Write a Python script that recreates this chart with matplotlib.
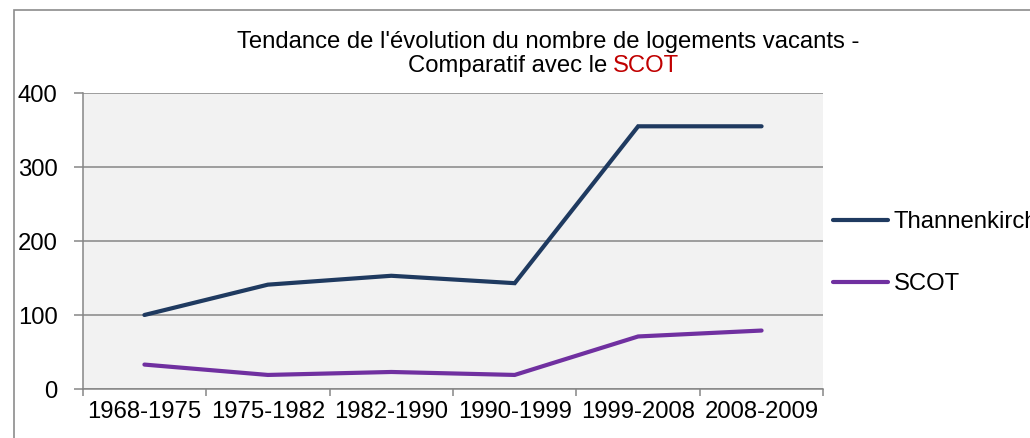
import matplotlib
matplotlib.use("Agg")
import matplotlib.pyplot as plt
from matplotlib.patches import Rectangle

categories = ["1968-1975", "1975-1982", "1982-1990", "1990-1999", "1999-2008", "2008-2009"]
thannenkirch = [100, 141, 153, 143, 355, 355]
scot = [33, 19, 23, 19, 71, 79]
series_names = ["Thannenkirch", "SCOT"]
y_ticks = [0, 100, 200, 300, 400]

W, H = 1030, 438
plt.rcParams['font.family'] = ['Liberation Sans', 'DejaVu Sans']
fig = plt.figure(figsize=(W / 100, H / 100), dpi=100)
fig.patch.set_facecolor('white')

# chart border (extends past right/bottom edges)
fig.patches.append(Rectangle((14 / W, -0.1), 1.2, 1 - 10 / H + 0.1, transform=fig.transFigure,
                             fill=False, edgecolor='#8c8c8c', linewidth=1.2, figure=fig))

left, right, top, bottom = 82.7, 823.3, 93.0, 389.0
ax = fig.add_axes([left / W, 1 - bottom / H, (right - left) / W, (bottom - top) / H])
ax.set_facecolor('#f2f2f2')

x = list(range(len(categories)))
navy = '#1f3a60'
purple = '#7030a0'
ax.plot(x, thannenkirch, color=navy, lw=3.0, solid_capstyle='round', solid_joinstyle='miter',
        label=series_names[0], zorder=3)
ax.plot(x, scot, color=purple, lw=3.0, solid_capstyle='round', solid_joinstyle='miter',
        label=series_names[1], zorder=3)

ax.set_xlim(-0.5, len(categories) - 0.5)
ax.set_ylim(0, 400)
ax.set_yticks(y_ticks)
ax.set_yticklabels([str(v) for v in y_ticks])
ax.yaxis.grid(True, color='#868686', linewidth=1.1)
ax.set_axisbelow(True)

# x: boundary ticks (major) without labels, labels at centers (minor)
ax.set_xticks([i - 0.5 for i in range(len(categories) + 1)])
ax.set_xticklabels([])
ax.set_xticks(x, minor=True)
ax.set_xticklabels(categories, minor=True)
ax.tick_params(axis='x', which='major', length=5, width=1.1, color='#868686', direction='out')
ax.tick_params(axis='x', which='minor', length=0, pad=9, labelsize=17.2)
ax.tick_params(axis='y', length=6.5, width=1.1, color='#868686', direction='out', pad=11.5,
               labelsize=17.2)

for s in ['top', 'right']:
    ax.spines[s].set_visible(False)
for s in ['left', 'bottom']:
    ax.spines[s].set_color('#868686')
    ax.spines[s].set_linewidth(1.1)

# title
tfs = 17.2
fig.text(548.5 / W, 1 - 48 / H, "Tendance de l'évolution du nombre de logements vacants -",
         ha='center', va='baseline', fontsize=tfs, color='black')
t1 = fig.text(0, 1 - 72 / H, "Comparatif avec le ", ha='left', va='baseline',
              fontsize=tfs, color='black')
t2 = fig.text(0, 1 - 72 / H, "SCOT", ha='left', va='baseline', fontsize=tfs,
              color='#c00000')
r = fig.canvas.get_renderer()
w1b = fig.text(0, 0, "Comparatif avec le", fontsize=tfs).get_window_extent(r).width
space = fig.text(0, 0, "a a", fontsize=tfs).get_window_extent(r).width - \
    2 * fig.text(0, 0, "a", fontsize=tfs).get_window_extent(r).width
for t in fig.texts[-3:]:
    t.remove()
w2 = t2.get_window_extent(r).width
total = w1b + space + w2
x0 = 543.5 - total / 2
t1.set_x(x0 / W)
t2.set_x((x0 + w1b + space) / W)

# legend
leg = fig.legend(loc='upper left', bbox_to_anchor=(833 / W, 1 - 211 / H), frameon=False,
                 fontsize=17.2, handlelength=2.3, handletextpad=0.25, labelspacing=1.68,
                 borderaxespad=0, borderpad=0)

fig.savefig('out.png', dpi=100)
